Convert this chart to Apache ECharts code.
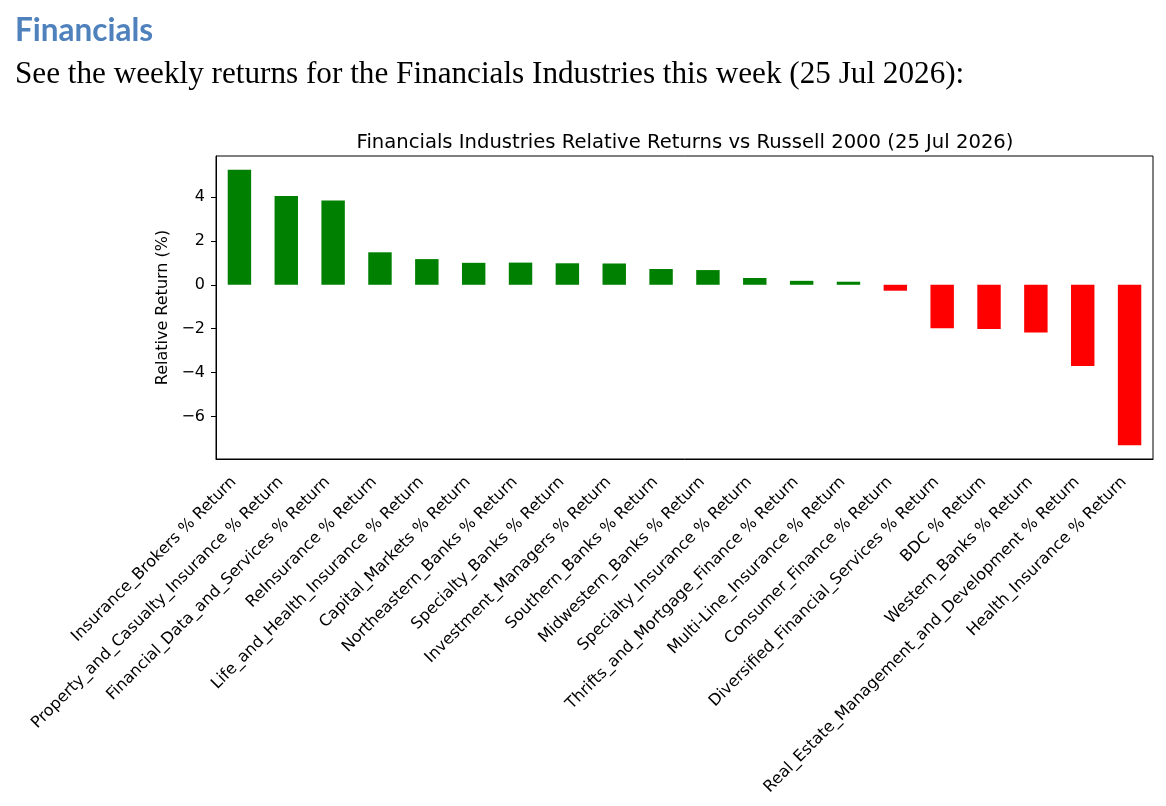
<!DOCTYPE html>
<html>
<head>
<meta charset="utf-8">
<script src="https://cdn.jsdelivr.net/npm/echarts@6/dist/echarts.min.js"></script>
<style>
  html, body { margin: 0; padding: 0; background: #fff; }
  #chart { width: 1166px; height: 806px; }
</style>
</head>
<body>
<div id="chart"></div>
<script>
var industries = [
    "Insurance_Brokers % Return",
    "Property_and_Casualty_Insurance % Return",
    "Financial_Data_and_Services % Return",
    "ReInsurance % Return",
    "Life_and_Health_Insurance % Return",
    "Capital_Markets % Return",
    "Northeastern_Banks % Return",
    "Specialty_Banks % Return",
    "Investment_Managers % Return",
    "Southern_Banks % Return",
    "Midwestern_Banks % Return",
    "Specialty_Insurance % Return",
    "Thrifts_and_Mortgage_Finance % Return",
    "Multi-Line_Insurance % Return",
    "Consumer_Finance % Return",
    "Diversified_Financial_Services % Return",
    "BDC % Return",
    "Western_Banks % Return",
    "Real_Estate_Management_and_Development % Return",
    "Health_Insurance % Return"
];
var returns = [5.24, 4.05, 3.84, 1.48, 1.17, 1.00, 1.01, 0.98, 0.97, 0.72,
               0.67, 0.31, 0.18, 0.14, -0.27, -1.98, -2.02, -2.17, -3.70, -7.31];
var yTicks = [-6, -4, -2, 0, 2, 4];

var dom = document.getElementById("chart");
var myChart = echarts.init(dom);

// matplotlib style 5% margins around the data
var lo = Math.min.apply(null, returns.concat([0]));
var hi = Math.max.apply(null, returns.concat([0]));
var pad = (hi - lo) * 0.05;

var option = {
    animation: false,
    backgroundColor: '#fff',
    title: [{
        text: 'Financials',
        left: 10,
        top: 10,
        textStyle: { fontFamily: 'Lato', fontWeight: 'bold', fontSize: 31.5, color: '#4F81BD' }
    }, {
        text: 'See the weekly returns for the Financials Industries this week (25 Jul 2026):',
        left: 10,
        top: 54,
        textStyle: { fontFamily: 'Liberation Serif', fontWeight: 'normal', fontSize: 31.2, color: '#000' }
    }, {
        text: 'Financials Industries Relative Returns vs Russell 2000 (25 Jul 2026)',
        left: 680,
        top: 128,
        textAlign: 'center',
        textStyle: { fontFamily: 'DejaVu Sans', fontWeight: 'normal', fontSize: 19.6, color: '#000' }
    }],
    grid: {
        left: 216,
        right: 13,
        top: 156,
        bottom: 347,
        show: true,
        borderColor: '#000',
        borderWidth: 1,
        backgroundColor: 'transparent'
    },
    xAxis: {
        type: 'category',
        data: industries,
        axisLine: { onZero: false, lineStyle: { color: '#000', width: 1 } },
        axisTick: { alignWithLabel: true, length: 5, lineStyle: { color: '#000' } },
        axisLabel: {
            interval: 0,
            rotate: 45,
            align: 'right',
            verticalAlign: 'middle',
            margin: 15,
            padding: [0, 8, 0, 0],
            fontFamily: 'DejaVu Sans',
            fontSize: 16,
            color: '#000'
        },
        splitLine: { show: false }
    },
    yAxis: {
        type: 'value',
        min: lo - pad,
        max: hi + pad,
        name: 'Relative Return (%)',
        nameLocation: 'middle',
        nameGap: 40,
        nameTextStyle: { fontFamily: 'DejaVu Sans', fontSize: 16, color: '#000' },
        axisLine: { show: true, lineStyle: { color: '#000', width: 1 } },
        axisTick: { show: true, length: 5, customValues: yTicks, lineStyle: { color: '#000' } },
        axisLabel: {
            customValues: yTicks,
            margin: 11,
            fontFamily: 'DejaVu Sans',
            fontSize: 16,
            color: '#000',
            formatter: function (v) { return String(v).replace('-', '\u2212'); }
        },
        splitLine: { show: false }
    },
    series: [{
        type: 'bar',
        data: returns.map(function (v) {
            return { value: v, itemStyle: { color: v >= 0 ? '#008000' : '#ff0000' } };
        }),
        barWidth: '50%'
    }]
};

if (option && typeof option === "object") {
    myChart.setOption(option, true);
}
</script>
</body>
</html>
